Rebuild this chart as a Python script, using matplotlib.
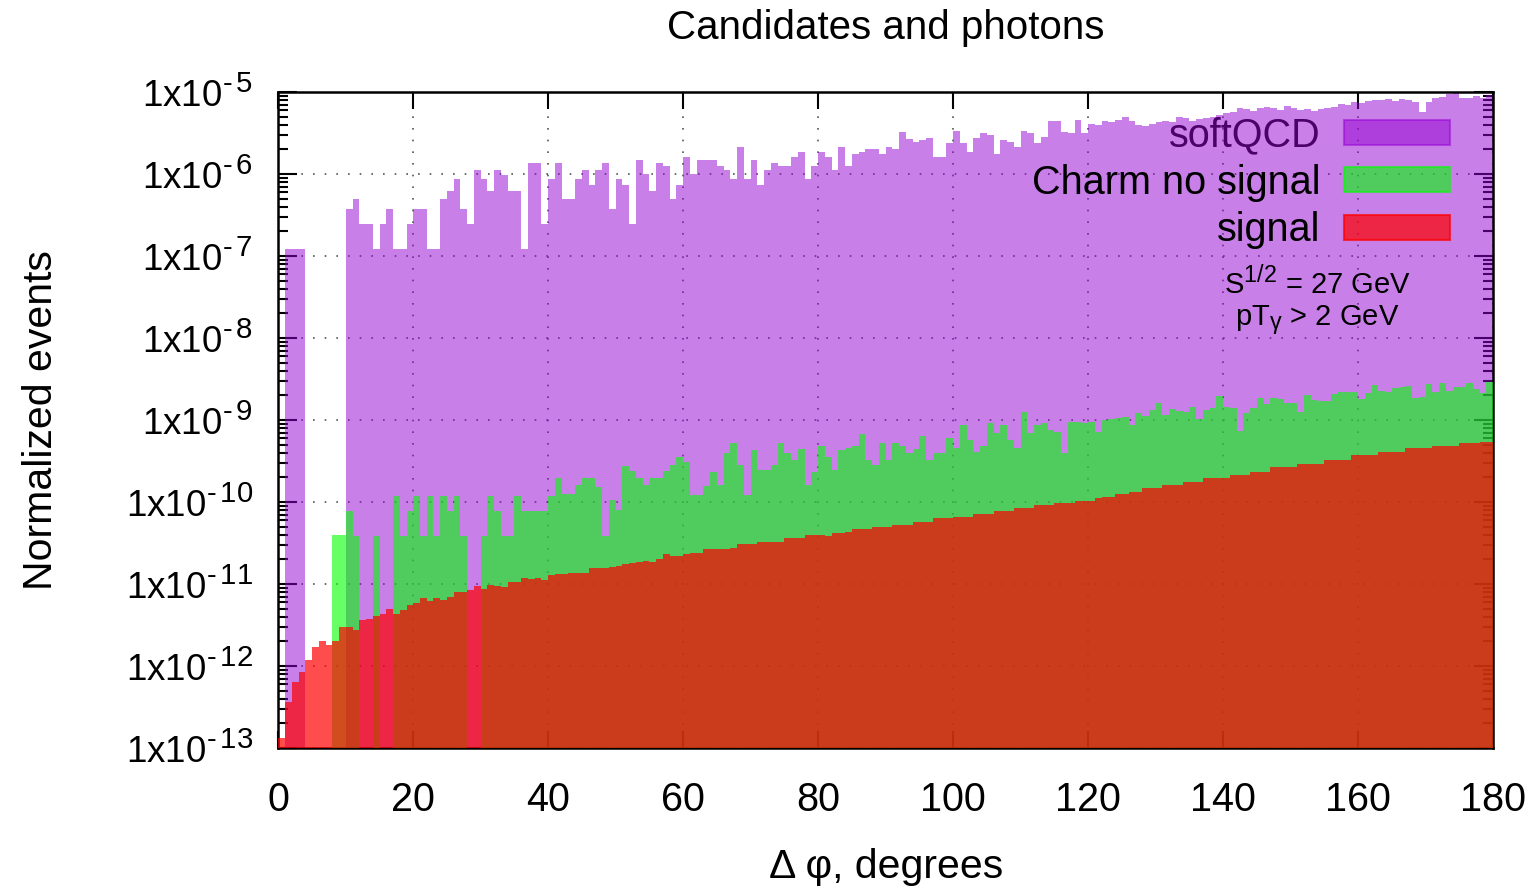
import numpy as np
import matplotlib
matplotlib.use("Agg")
import matplotlib.pyplot as plt
from matplotlib.patches import Patch
from matplotlib.ticker import FixedLocator, LogLocator, FuncFormatter, NullFormatter
try:
    import matplotlib._mathtext as _mt
    _mt.SHRINK_FACTOR = 0.8   # gnuplot-style larger super/subscripts
except Exception:
    pass

plt.rcParams['font.family'] = ['Liberation Sans', 'DejaVu Sans']
plt.rcParams['mathtext.fontset'] = 'custom'
plt.rcParams['mathtext.rm'] = 'Liberation Sans'
plt.rcParams['mathtext.it'] = 'Liberation Sans:italic'
plt.rcParams['mathtext.bf'] = 'Liberation Sans:bold'

# ---------------- data (1-degree bins, left edges 0..179) ----------------
bin_edges_left = list(range(0, 180))

softqcd = [
    0, 1.22e-7, 1.22e-7, 1.22e-7, 0, 0, 0, 0, 0, 0,
    3.7e-7, 4.95e-7, 2.45e-7, 2.45e-7, 1.22e-7, 2.45e-7, 3.7e-7, 1.22e-7, 1.22e-7, 2.45e-7,
    3.7e-7, 3.7e-7, 1.22e-7, 1.22e-7, 4.95e-7, 6.2e-7, 8.7e-7, 3.7e-7, 2.45e-7, 1.12e-6,
    8.7e-7, 6.2e-7, 1.12e-6, 9.7e-7, 6.2e-7, 6.2e-7, 1.22e-7, 1.37e-6, 1.37e-6, 2.45e-7,
    8.7e-7, 1.37e-6, 4.95e-7, 4.95e-7, 8.7e-7, 1.12e-6, 7.4e-7, 1.12e-6, 1.37e-6, 3.7e-7,
    8.7e-7, 7.4e-7, 2.45e-7, 1.48e-6, 1.0e-6, 6.2e-7, 1.35e-6, 1.26e-6, 4.95e-7, 7.4e-7,
    1.6e-6, 1.0e-6, 1.48e-6, 1.48e-6, 1.48e-6, 1.26e-6, 1.12e-6, 8.7e-7, 2.11e-6, 8.7e-7,
    1.48e-6, 7.4e-7, 1.12e-6, 1.37e-6, 1.26e-6, 1.26e-6, 1.6e-6, 1.87e-6, 8.7e-7, 1.26e-6,
    1.87e-6, 1.6e-6, 1.12e-6, 2.11e-6, 1.26e-6, 1.75e-6, 1.87e-6, 2.0e-6, 2.0e-6, 1.75e-6,
    2.11e-6, 2.0e-6, 3.22e-6, 2.67e-6, 2.48e-6, 2.6e-6, 2.72e-6, 1.6e-6, 1.6e-6, 2.37e-6,
    3.37e-6, 2.37e-6, 1.87e-6, 2.72e-6, 3.13e-6, 2.99e-6, 1.75e-6, 2.6e-6, 2.45e-6, 2.11e-6,
    3.37e-6, 3.13e-6, 2.37e-6, 2.85e-6, 4.47e-6, 4.37e-6, 3.22e-6, 3.13e-6, 4.52e-6, 3.13e-6,
    4.07e-6, 3.98e-6, 4.43e-6, 4.27e-6, 4.6e-6, 4.91e-6, 4.43e-6, 3.98e-6, 3.81e-6, 4.04e-6,
    4.35e-6, 4.43e-6, 4.27e-6, 5.0e-6, 4.78e-6, 4.43e-6, 4.65e-6, 4.78e-6, 5.0e-6, 5.25e-6,
    5.5e-6, 5.75e-6, 6.44e-6, 6.21e-6, 5.86e-6, 6.32e-6, 6.62e-6, 6.44e-6, 6.03e-6, 6.81e-6,
    6.44e-6, 6.03e-6, 6.21e-6, 5.86e-6, 6.21e-6, 6.44e-6, 6.62e-6, 7.08e-6, 6.93e-6, 7.62e-6,
    7.28e-6, 7.76e-6, 7.98e-6, 7.98e-6, 8.15e-6, 7.76e-6, 8.15e-6, 7.98e-6, 7.48e-6, 5.65e-6,
    7.62e-6, 8.53e-6, 8.77e-6, 9.38e-6, 9.91e-6, 8.53e-6, 8.38e-6, 8.93e-6, 8.38e-6, 9.18e-6,
]

charm_no_signal = [
    0, 0, 0, 0, 0, 0, 0, 0, 3.96e-11, 3.96e-11,
    7.8e-11, 3.9e-11, 0, 0, 3.9e-11, 0, 0, 1.19e-10, 3.9e-11, 7.8e-11,
    1.19e-10, 3.9e-11, 1.19e-10, 3.9e-11, 1.19e-10, 7.8e-11, 1.19e-10, 3.9e-11, 0, 0,
    3.9e-11, 1.19e-10, 7.8e-11, 3.9e-11, 3.9e-11, 1.19e-10, 7.8e-11, 7.8e-11, 7.8e-11, 7.8e-11,
    1.19e-10, 1.95e-10, 1.25e-10, 1.25e-10, 1.61e-10, 1.95e-10, 1.95e-10, 1.54e-10, 3.9e-11, 1.06e-10,
    7.98e-11, 2.75e-10, 2.41e-10, 1.95e-10, 1.61e-10, 1.95e-10, 1.95e-10, 2.41e-10, 2.82e-10, 3.51e-10,
    3.1e-10, 1.22e-10, 1.22e-10, 1.57e-10, 2.34e-10, 1.61e-10, 4.0e-10, 5.19e-10, 2.82e-10, 1.22e-10,
    4.31e-10, 2.45e-10, 2.45e-10, 2.82e-10, 5.19e-10, 4.0e-10, 3.25e-10, 4.39e-10, 1.61e-10, 2.34e-10,
    4.82e-10, 3.57e-10, 2.45e-10, 4.31e-10, 4.51e-10, 4.82e-10, 6.75e-10, 3.25e-10, 2.82e-10, 5.19e-10,
    3.25e-10, 5.19e-10, 4.82e-10, 4.0e-10, 4.39e-10, 6.38e-10, 3.25e-10, 3.92e-10, 3.92e-10, 5.97e-10,
    4.51e-10, 8.69e-10, 5.7e-10, 4.11e-10, 4.82e-10, 9.1e-10, 6.87e-10, 8.69e-10, 5.7e-10, 4.51e-10,
    1.24e-9, 7.0e-10, 8.69e-10, 9.1e-10, 7.55e-10, 7.21e-10, 4.0e-10, 9.55e-10, 9.55e-10, 9.1e-10,
    9.55e-10, 7.24e-10, 1.0e-9, 1.02e-9, 1.05e-9, 1.08e-9, 8.69e-10, 1.23e-9, 1.12e-9, 1.32e-9,
    1.6e-9, 1.15e-9, 1.35e-9, 1.3e-9, 1.26e-9, 1.46e-9, 1.02e-9, 1.32e-9, 1.39e-9, 1.96e-9,
    1.46e-9, 1.39e-9, 7.35e-10, 1.23e-9, 1.41e-9, 1.84e-9, 1.57e-9, 1.84e-9, 1.79e-9, 1.6e-9,
    1.6e-9, 1.26e-9, 2.02e-9, 1.75e-9, 1.71e-9, 1.72e-9, 2.07e-9, 2.22e-9, 2.22e-9, 2.17e-9,
    1.79e-9, 2.15e-9, 2.67e-9, 2.28e-9, 2.22e-9, 2.43e-9, 2.5e-9, 2.6e-9, 1.84e-9, 1.89e-9,
    2.75e-9, 2.22e-9, 2.8e-9, 2.28e-9, 2.5e-9, 2.55e-9, 2.85e-9, 2.37e-9, 2.11e-9, 2.93e-9,
]

signal = [
    1.32e-13, 3.67e-13, 6.3e-13, 8.5e-13, 1.17e-12, 1.7e-12, 2.0e-12, 1.82e-12, 2.0e-12, 3.02e-12,
    3.02e-12, 2.75e-12, 3.63e-12, 3.72e-12, 4.07e-12, 4.27e-12, 5.0e-12, 4.27e-12, 4.79e-12, 5.5e-12,
    5.89e-12, 6.76e-12, 6.17e-12, 6.76e-12, 6.3e-12, 6.92e-12, 7.94e-12, 7.94e-12, 8.5e-12, 9.33e-12,
    8.7e-12, 9.77e-12, 9.55e-12, 9.12e-12, 1.05e-11, 1.05e-11, 1.2e-11, 1.15e-11, 1.2e-11, 1.12e-11,
    1.29e-11, 1.32e-11, 1.32e-11, 1.35e-11, 1.35e-11, 1.38e-11, 1.55e-11, 1.58e-11, 1.58e-11, 1.62e-11,
    1.66e-11, 1.74e-11, 1.82e-11, 1.86e-11, 1.91e-11, 1.86e-11, 2.04e-11, 2.29e-11, 2.19e-11, 2.19e-11,
    2.34e-11, 2.4e-11, 2.4e-11, 2.65e-11, 2.65e-11, 2.65e-11, 2.65e-11, 2.72e-11, 3.05e-11, 3.05e-11,
    3.05e-11, 3.28e-11, 3.28e-11, 3.28e-11, 3.28e-11, 3.61e-11, 3.61e-11, 3.61e-11, 3.96e-11, 3.96e-11,
    3.96e-11, 3.89e-11, 4.15e-11, 4.15e-11, 4.35e-11, 4.65e-11, 4.65e-11, 4.65e-11, 4.91e-11, 4.91e-11,
    4.91e-11, 5.25e-11, 5.25e-11, 5.25e-11, 5.75e-11, 5.75e-11, 5.75e-11, 6.32e-11, 6.32e-11, 6.32e-11,
    6.62e-11, 6.62e-11, 6.62e-11, 7.14e-11, 7.14e-11, 7.14e-11, 7.83e-11, 7.83e-11, 7.83e-11, 8.38e-11,
    8.38e-11, 8.38e-11, 9.18e-11, 9.18e-11, 9.18e-11, 9.82e-11, 9.82e-11, 9.82e-11, 1.04e-10, 1.04e-10,
    1.04e-10, 1.11e-10, 1.16e-10, 1.16e-10, 1.25e-10, 1.25e-10, 1.34e-10, 1.34e-10, 1.47e-10, 1.47e-10,
    1.47e-10, 1.61e-10, 1.61e-10, 1.61e-10, 1.77e-10, 1.77e-10, 1.77e-10, 1.95e-10, 1.95e-10, 1.95e-10,
    1.95e-10, 2.13e-10, 2.13e-10, 2.13e-10, 2.34e-10, 2.34e-10, 2.34e-10, 2.65e-10, 2.65e-10, 2.65e-10,
    2.65e-10, 2.9e-10, 2.9e-10, 2.9e-10, 2.9e-10, 3.25e-10, 3.25e-10, 3.25e-10, 3.25e-10, 3.74e-10,
    3.74e-10, 3.74e-10, 3.74e-10, 4.11e-10, 4.11e-10, 4.11e-10, 4.11e-10, 4.51e-10, 4.51e-10, 4.51e-10,
    4.51e-10, 4.82e-10, 4.82e-10, 4.82e-10, 4.82e-10, 5.19e-10, 5.19e-10, 5.19e-10, 5.45e-10, 5.45e-10,
]

series_labels = ['softQCD', 'Charm no signal', 'signal']
x_ticks = [0, 20, 40, 60, 80, 100, 120, 140, 160, 180]
y_decades = [1e-13, 1e-12, 1e-11, 1e-10, 1e-9, 1e-8, 1e-7, 1e-6, 1e-5]

# ---------------- styling ----------------
PURPLE, GREEN, RED = '#9400d3', '#00ff00', '#ff0000'
A_P, A_G, A_R = 0.5, 0.6, 0.7
FS = 28.5
BASE = 1e-16

fig = plt.figure(figsize=(15.4, 8.89), dpi=100)
ax = fig.add_axes([0.1807, 0.1586, 0.7888, 0.7379])

x = np.array(bin_edges_left, dtype=float)
for vals, col, a, z in [(softqcd, PURPLE, A_P, 2), (charm_no_signal, GREEN, A_G, 3), (signal, RED, A_R, 4)]:
    v = np.array(vals, dtype=float)
    ax.bar(x, v, width=1.0, bottom=BASE, align='edge', color=col, alpha=a,
           linewidth=0, zorder=z)

ax.set_yscale('log')
ax.set_xlim(0, 180)
ax.set_ylim(1e-13, 1e-5)

ax.xaxis.set_major_locator(FixedLocator(x_ticks))
ax.yaxis.set_major_locator(FixedLocator(y_decades))
ax.yaxis.set_minor_locator(LogLocator(base=10, subs=np.arange(2, 10), numticks=100))
ax.yaxis.set_minor_formatter(NullFormatter())
ax.yaxis.set_major_formatter(FuncFormatter(
    lambda v, p: r'$\mathregular{1x10^{‐\,%d}}$' % abs(int(round(np.log10(v))))))

ax.tick_params(axis='both', which='both', direction='in', top=True, right=True, width=1.5)
ax.tick_params(axis='x', which='major', length=12, pad=24, labelsize=FS)
ax.tick_params(axis='y', which='major', length=14, pad=18, labelsize=26.5)
ax.tick_params(axis='y', which='minor', length=7)
for s in ax.spines.values():
    s.set_linewidth(1.8)

ax.set_axisbelow(True)
ax.grid(True, which='major', color='#555555', linestyle=(0, (1, 6)), linewidth=1.2)

ax.set_title('Candidates and photons', fontsize=29, pad=38)
ax.set_xlabel('Δ φ, degrees', fontsize=29.5)
ax.set_ylabel('Normalized events', fontsize=29.5)
ax.yaxis.set_label_coords(-0.1795, 0.5)
ax.xaxis.set_label_coords(0.5, -0.1526)

handles = [Patch(facecolor=PURPLE, edgecolor=PURPLE, alpha=A_P, linewidth=1.5),
           Patch(facecolor=GREEN, edgecolor=GREEN, alpha=A_G, linewidth=1.5),
           Patch(facecolor=RED, edgecolor=RED, alpha=A_R, linewidth=1.5)]
leg = ax.legend(handles, series_labels, loc='upper right', bbox_to_anchor=(0.9646, 0.9634),
                frameon=False, markerfirst=False, handlelength=2.68, handleheight=0.6,
                handletextpad=0.6, labelspacing=0.24, borderpad=0, borderaxespad=0,
                fontsize=FS)
leg.set_zorder(10)
leg.get_texts()[0].set_color('#4b0069')

ax.text(0.855, 0.709, r'S$^{\mathregular{1/2}}$ = 27 GeV', transform=ax.transAxes,
        ha='center', va='center', fontsize=21, zorder=11)
ax.text(0.855, 0.653, r'pT$_{\mathregular{γ}}$ > 2 GeV', transform=ax.transAxes,
        ha='center', va='center', fontsize=21, zorder=11)

fig.savefig('out.png', dpi=100)
